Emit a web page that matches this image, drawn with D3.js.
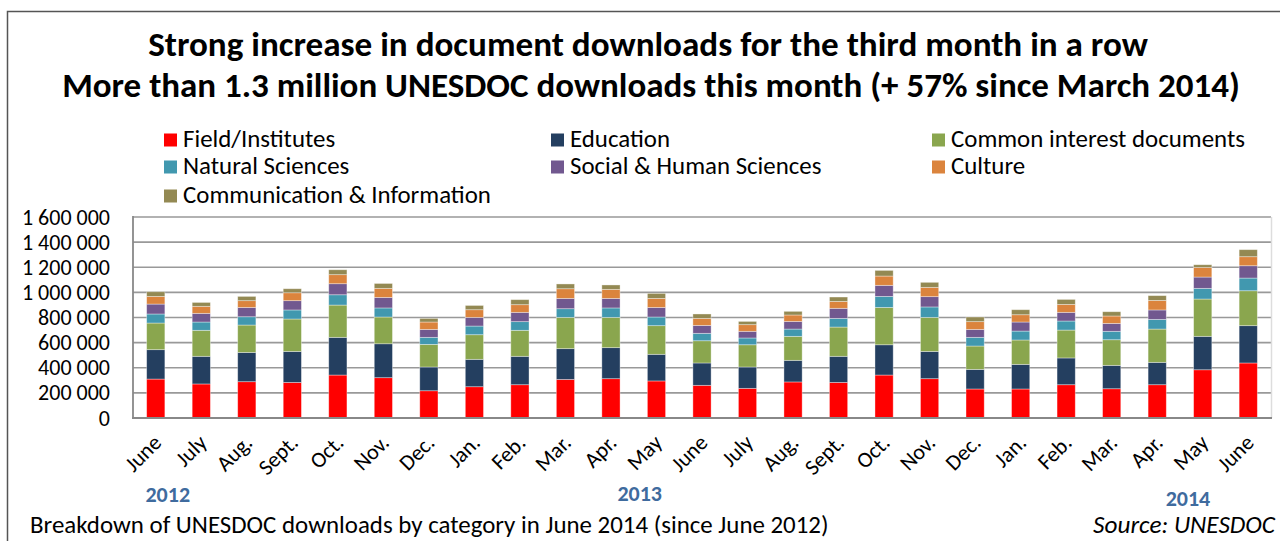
<!DOCTYPE html>
<html>
<head>
<meta charset="utf-8">
<script src="https://cdn.jsdelivr.net/npm/d3@7"></script>
<style>
  body { margin: 0; background: #fff; }
  svg text { font-family: Carlito, Calibri, Lato, "Open Sans", sans-serif; }
</style>
</head>
<body>
<svg id="chart" width="1280" height="541"></svg>
<script>
// month categories
var months = ["June","July","Aug.","Sept.","Oct.","Nov.","Dec.","Jan.","Feb.","Mar.","Apr.","May",
              "June","July","Aug.","Sept.","Oct.","Nov.","Dec.","Jan.","Feb.","Mar.","Apr.","May","June"];
var years = ["2012", "2013", "2014"];

// downloads per category (thousands)
var field         = [310,271,289,283,342,321,217,249,265,307,313,295,260,236,287,283,342,313,231,231,265,233,265,384,438];
var education     = [234,220,233,247,300,270,189,218,226,245,247,212,178,170,172,208,241,217,156,196,213,186,178,266,297];
var common        = [212,207,218,258,257,213,180,196,207,249,241,228,177,177,191,233,297,271,186,194,222,204,265,297,278];
var natural       = [ 72, 66, 66, 72, 82, 72, 56, 69, 69, 69, 75, 69, 59, 54, 58, 69, 88, 83, 69, 71, 72, 67, 77, 85,101];
var social        = [ 79, 69, 74, 74, 88, 84, 63, 69, 74, 82, 76, 76, 63, 53, 61, 80, 88, 82, 63, 72, 69, 63, 75, 90, 98];
var culture       = [ 61, 56, 54, 63, 72, 72, 59, 61, 61, 77, 72, 72, 56, 53, 51, 55, 74, 74, 62, 58, 63, 59, 76, 77, 72];
var communication = [ 37, 31, 34, 32, 39, 39, 29, 34, 40, 38, 35, 40, 35, 26, 29, 35, 45, 40, 37, 40, 40, 34, 38, 21, 56];

var seriesNames = ["Field/Institutes","Education","Common interest documents","Natural Sciences",
                   "Social & Human Sciences","Culture","Communication & Information"];
var seriesColors = ["#ff0000","#243f60","#8aa64e","#4198af","#71588f","#db843d","#938953"];
var yTicks = [0, 200000, 400000, 600000, 800000, 1000000, 1200000, 1400000, 1600000];

var svg = d3.select("svg#chart");

// helper: shrink/grow a text to a target width
function fit(sel, target) {
    var w = sel.node().getComputedTextLength();
    var fs = parseFloat(sel.attr("font-size"));
    sel.attr("font-size", fs * target / w);
}

// outer frame
svg.append("rect")
   .attr("x", 7.5).attr("y", 11.5)
   .attr("width", 1300).attr("height", 560)
   .attr("fill", "none")
   .attr("stroke", "#555")
   .attr("stroke-width", 1.5);

// titles
var t1 = svg.append("text")
   .attr("x", 648).attr("y", 56)
   .attr("text-anchor", "middle")
   .attr("font-size", 28).attr("font-weight", "bold")
   .text("Strong increase in document downloads for the third month in a row");
fit(t1, 1000);
var t2 = svg.append("text")
   .attr("x", 651).attr("y", 97)
   .attr("text-anchor", "middle")
   .attr("font-size", 28).attr("font-weight", "bold")
   .text("More than 1.3 million UNESDOC downloads this month (+ 57% since March 2014)");
fit(t2, 1178);

// table for the stack
var rows = months.map(function(m, i) {
    return { i: i, month: m,
             s0: field[i] * 1000, s1: education[i] * 1000, s2: common[i] * 1000, s3: natural[i] * 1000,
             s4: social[i] * 1000, s5: culture[i] * 1000, s6: communication[i] * 1000 };
});
var keys = ["s0","s1","s2","s3","s4","s5","s6"];
var stacked = d3.stack().keys(keys)(rows);

// scales
var x = d3.scaleBand()
          .domain(d3.range(months.length))
          .range([133, 1271])
          .paddingInner(0.6)
          .paddingOuter(0.3);
var y = d3.scaleLinear()
          .domain([0, 1600000])
          .range([418, 217]);

// gridlines
svg.append("g")
   .selectAll("line")
   .data(yTicks)
   .enter().append("line")
   .attr("x1", 133).attr("x2", 1271)
   .attr("y1", function(d) { return y(d); })
   .attr("y2", function(d) { return y(d); })
   .attr("stroke", "#999")
   .attr("stroke-width", 1.6);

svg.append("line")
   .attr("x1", 1271.5).attr("x2", 1271.5)
   .attr("y1", 217).attr("y2", 418)
   .attr("stroke", "#ddd").attr("stroke-width", 1.5);

// bars
svg.append("g")
   .selectAll("g")
   .data(stacked)
   .enter().append("g")
   .attr("fill", function(d, k) { return seriesColors[k]; })
   .selectAll("rect")
   .data(function(d) { return d; })
   .enter().append("rect")
   .attr("x", function(d) { return x(d.data.i); })
   .attr("width", x.bandwidth())
   .attr("y", function(d) { return y(d[1]); })
   .attr("height", function(d) { return y(d[0]) - y(d[1]); })
   .attr("stroke", "#fff")
   .attr("stroke-opacity", 0.45)
   .attr("stroke-width", 0.8);

// axes lines
svg.append("line")
   .attr("x1", 133).attr("x2", 133)
   .attr("y1", 216).attr("y2", 419)
   .attr("stroke", "#888").attr("stroke-width", 1.8);
svg.append("line")
   .attr("x1", 132).attr("x2", 1272)
   .attr("y1", 418).attr("y2", 418)
   .attr("stroke", "#888").attr("stroke-width", 1.8);

// y axis labels
var spaced = d3.formatLocale({ decimal: ".", thousands: "\u00a0", grouping: [3], currency: ["", ""] }).format(",");
var yAxis = svg.append("g")
   .attr("transform", "translate(110,0)")
   .call(d3.axisLeft(y).tickValues(yTicks).tickSize(0).tickPadding(0).tickFormat(spaced));
yAxis.select(".domain").remove();
yAxis.attr("font-family", null);
yAxis.selectAll("text")
     .attr("font-size", 18)
     .attr("fill", "#000");
fit(yAxis.selectAll("text").filter(function(d) { return d === 1600000; }), 88);
var yfs = yAxis.selectAll("text").filter(function(d) { return d === 1600000; }).attr("font-size");
yAxis.selectAll("text").attr("font-size", yfs);

// x axis labels
var xAxis = svg.append("g")
   .attr("transform", "translate(0,418)")
   .call(d3.axisBottom(x).tickSize(0).tickFormat(function(i) { return months[i]; }));
xAxis.select(".domain").remove();
xAxis.attr("font-family", null).attr("font-size", 22);
xAxis.selectAll("text")
     .attr("font-size", 22)
     .attr("fill", "#000")
     .attr("y", 0).attr("dy", null)
     .attr("transform", "translate(7,26) rotate(-45)")
     .style("text-anchor", "end");

// year labels under the months
function xc(i) { return x(i) + x.bandwidth() / 2; }
var yearX = [xc(0) + 12, (xc(10) + xc(11)) / 2 + 6, (xc(22) + xc(23)) / 2 + 8];
var yearY = [502, 501, 506];
svg.append("g")
   .selectAll("text")
   .data(years)
   .enter().append("text")
   .attr("x", function(d, k) { return yearX[k]; })
   .attr("y", function(d, k) { return yearY[k]; })
   .attr("text-anchor", "middle")
   .attr("font-size", 22)
   .attr("font-weight", "bold")
   .attr("fill", "#3f6b9e")
   .text(function(d) { return d; });

// legend
var legendX = [164, 551, 932];
var legendY = [140, 167, 196];
var leg = svg.append("g")
   .selectAll("g")
   .data(seriesNames)
   .enter().append("g")
   .attr("transform", function(d, k) { return "translate(" + legendX[k % 3] + "," + legendY[Math.floor(k / 3)] + ")"; });
leg.append("rect")
   .attr("x", 0).attr("y", -6.5)
   .attr("width", 13).attr("height", 13)
   .attr("fill", function(d, k) { return seriesColors[k]; });
var legText = leg.append("text")
   .attr("x", 19).attr("y", 7)
   .attr("font-size", 20)
   .text(function(d) { return d; });
fit(legText.filter(function(d) { return d === "Communication & Information"; }), 308);
var lfs = legText.filter(function(d) { return d === "Communication & Information"; }).attr("font-size");
legText.attr("font-size", lfs);

// footer notes
var note = svg.append("text")
   .attr("x", 30).attr("y", 533)
   .attr("font-size", 19)
   .text("Breakdown of UNESDOC downloads by category in June 2014 (since June 2012)");
fit(note, 799);
var src = svg.append("text")
   .attr("x", 1275).attr("y", 533)
   .attr("text-anchor", "end")
   .attr("font-size", 19)
   .attr("font-style", "italic")
   .text("Source: UNESDOC");
fit(src, 182);
</script>
</body>
</html>
